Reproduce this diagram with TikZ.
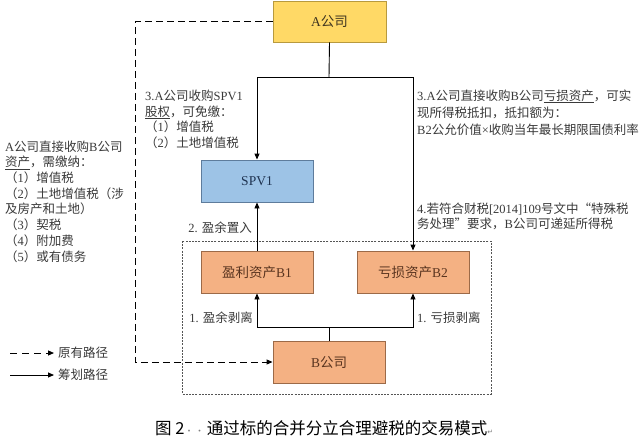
\documentclass[tikz,border=0pt]{standalone}
\usepackage{fontspec}
\setmainfont{Liberation Serif}
\newfontfamily\cjkfont{Noto Sans CJK SC}
\newfontfamily\latinfont{Liberation Serif}
\newfontfamily\symfont{DejaVu Sans}
\usetikzlibrary{arrows.meta}
\newXeTeXintercharclass\CJKcls
\newcount\mycnt
\mycnt="3000
\loop \XeTeXcharclass\mycnt=\CJKcls \advance\mycnt by 1 \ifnum\mycnt<"3040 \repeat
\mycnt="4E00
\loop \XeTeXcharclass\mycnt=\CJKcls \advance\mycnt by 1 \ifnum\mycnt<"A000 \repeat
\mycnt="FF00
\loop \XeTeXcharclass\mycnt=\CJKcls \advance\mycnt by 1 \ifnum\mycnt<"FFF0 \repeat
\XeTeXcharclass"201C=\CJKcls
\XeTeXcharclass"201D=\CJKcls
\XeTeXinterchartoks 0 \CJKcls = {\cjkfont}
\XeTeXinterchartoks 4095 \CJKcls = {\cjkfont}
\XeTeXinterchartoks \CJKcls 0 = {\latinfont}
\XeTeXinterchartoks 4095 0 = {\latinfont}
\definecolor{ayel}{HTML}{FFD966}
\definecolor{abord}{HTML}{B89A3E}
\definecolor{atext}{HTML}{3F3520}
\definecolor{sblue}{HTML}{9DC3E6}
\definecolor{sbord}{HTML}{5E7C9C}
\definecolor{stext}{HTML}{1F3350}
\definecolor{borange}{HTML}{F4B183}
\definecolor{bbord}{HTML}{9C6A48}
\definecolor{btext}{HTML}{5A3520}
\definecolor{tgray}{HTML}{3A3A3A}
\definecolor{gbox}{HTML}{555555}
\begin{document}
\XeTeXinterchartokenstate=1
\begin{tikzpicture}[x=1pt,y=-1pt,
  box/.style={draw, line width=0.9pt, minimum width=112pt, minimum height=42pt, inner sep=0pt, font=\fontsize{13.5}{16}\selectfont},
  abox/.style={box, fill=ayel, draw=abord, text=atext, minimum width=113pt, minimum height=41pt},
  sbox/.style={box, fill=sblue, draw=sbord, text=stext},
  obox/.style={box, fill=borange, draw=bbord, text=btext},
  txt/.style={inner sep=0pt, align=left, text=tgray, font=\fontsize{12.5}{15.5}\selectfont},
  lbl/.style={inner sep=0pt, text=tgray, font=\fontsize{12.5}{15}\selectfont},
  conn/.style={line width=0.9pt, -{Triangle[length=6pt,width=5pt]}},
  plain/.style={line width=0.9pt},
  dconn/.style={line width=1pt, dash pattern=on 7pt off 4pt, -{Triangle[length=6pt,width=5pt]}},
]
\useasboundingbox (0,0) rectangle (640,444);
\fill[white] (0,0) rectangle (640,444);
% group box
\draw[gbox, line width=0.9pt, dash pattern=on 2pt off 1.2pt] (182,241) rectangle (491,394);
% boxes
\node[abox] (A) at (329.5,21.5) {A公司};
\node[sbox] (SPV) at (257,181) {SPV1};
\node[obox] (B1) at (257,272) {盈利资产B1};
\node[obox] (B2) at (413,272) {亏损资产B2};
\node[obox] (B) at (329,362) {B公司};
% solid connectors
\coordinate (j1) at (329,77);
\draw[plain] (A.south) -- (j1);
\draw[conn] (j1) -| (SPV.north);
\draw[conn] (j1) -| (B2.north);
\draw[conn] (B1.north) -- (SPV.south);
\coordinate (j2) at (329,327);
\draw[plain] (B.north) -- (j2);
\draw[conn] (j2) -| (B1.south);
\draw[conn] (j2) -| (B2.south);
% dashed original path
\coordinate (d1) at (135,21.5);
\draw[dconn] (A.west) -- (d1) |- (B.west);
% texts (base anchor = baseline of last line)
\node[txt, anchor=base west] (t3a) at (145,147) {3.A公司收购SPV1\\\underline{股权}，可免缴：\\（1）增值税\\（2）土地增值税};
\node[txt, anchor=base west, font=\fontsize{12.5}{17}\selectfont] (t3b) at (417,134) {3.A公司直接收购B公司\underline{亏损资产}，可实\\现所得税抵扣，抵扣额为：\\B2公允价值×收购当年最长期限国债利率};
\node[txt, anchor=base west, font=\fontsize{12.5}{15.7}\selectfont] (tl) at (5,261) {A公司直接收购B公司\\\underline{资产}，需缴纳：\\（1）增值税\\（2）土地增值税（涉\\及房产和土地）\\（3）契税\\（4）附加费\\（5）或有债务};
\node[txt, anchor=base west, font=\fontsize{12.5}{15}\selectfont] (t4) at (417,228) {4.若符合财税[2014]109号文中“特殊税\\务处理”要求，B公司可递延所得税};
\node[lbl, anchor=base east] (t2) at (252,232) {2. 盈余置入};
\node[lbl, anchor=base east] (t1a) at (253,322) {1. 盈余剥离};
\node[lbl, anchor=base west] (t1b) at (417,322) {1. 亏损剥离};
% legend
\node[lbl, anchor=west] (leg1) at (58,353) {原有路径};
\node[lbl, anchor=west] (leg2) at (58,375) {筹划路径};
\coordinate (ls1) at (10,353);
\coordinate (ls2) at (10,375);
\draw[dconn, dash pattern=on 7pt off 5pt] (ls1) -- ([xshift=-4pt]leg1.west);
\draw[conn] (ls2) -- ([xshift=-4pt]leg2.west);
% caption
\node[inner sep=0pt, anchor=base west, font=\fontsize{16.5}{18}\selectfont] (cap) at (155,434) {\XeTeXinterchartokenstate=0 \cjkfont 图 2{\color{gray}\fontsize{9}{10}\selectfont·\,·}\,通过标的合并分立合理避税的交易模式{\color{gray}\symfont\fontsize{7}{8}\selectfont ↵}};
\end{tikzpicture}
\end{document}
